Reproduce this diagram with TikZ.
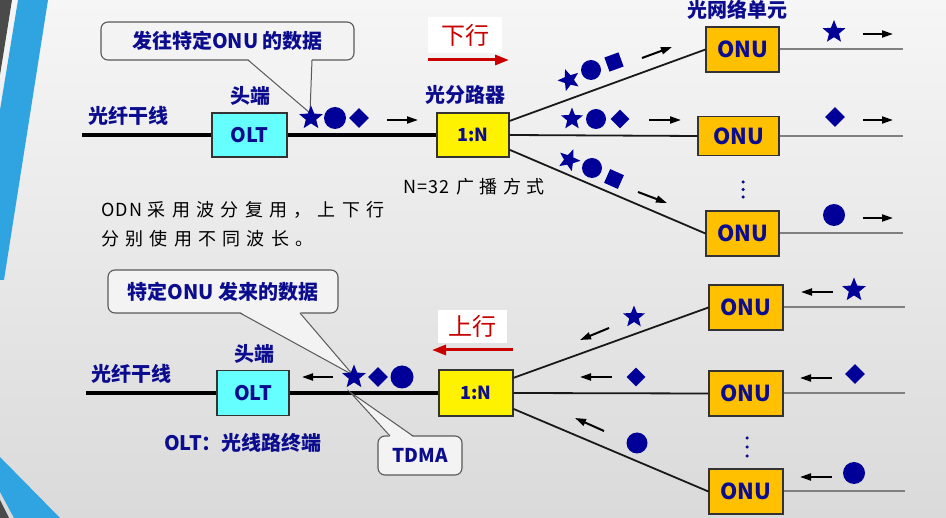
\documentclass[tikz,border=0pt]{standalone}
\usepackage{fontspec}
\setmainfont{Noto Sans CJK SC}
\usetikzlibrary{shapes.geometric,arrows.meta,calc}
\definecolor{navy}{HTML}{0C0C8E}
\definecolor{symc}{HTML}{000099}
\definecolor{onuc}{HTML}{FFC000}
\definecolor{oltc}{HTML}{66FFFF}
\definecolor{redc}{HTML}{C80000}
\definecolor{bandblue}{HTML}{2FA4E0}
\definecolor{banddark}{HTML}{4A4A4A}
\definecolor{bgtop}{HTML}{F6F6F6}
\definecolor{bgbot}{HTML}{DADADA}
\definecolor{cofill}{HTML}{F3F3F3}
\newcommand\myfs[1]{\fontsize{#1}{#1}\selectfont}
\tikzset{
 devbox/.style={draw=black!80, line width=1.1pt, inner sep=0pt, text=navy, font=\bfseries\myfs{20}},
 lab/.style={text=navy, font=\bfseries\myfs{20}, inner sep=0pt},
 trunk/.style={line width=3.5pt, black},
 branch/.style={line width=1.8pt, black!90},
 tail/.style={line width=2pt, black!50},
 marr/.style={line width=2pt, -{Triangle[length=11pt,width=7pt]}},
 rarr/.style={line width=3pt, redc, -{Triangle[length=14pt,width=10pt]}},
 callout/.style={draw=black!65, line width=1.1pt, rounded corners=7pt, fill=cofill, text=navy, font=\bfseries\myfs{20}, inner sep=0pt},
 cline/.style={draw=black!65, line width=1pt},
 sstar/.style={star, star points=5, star point ratio=2.3, fill=symc, inner sep=0pt, minimum size=25pt},
 scirc/.style={circle, fill=symc, inner sep=0pt, minimum size=21pt},
 sdiam/.style={diamond, fill=symc, inner sep=0pt, minimum size=20pt},
 ssq/.style={rectangle, fill=symc, inner sep=0pt, minimum size=15pt},
 dirlab/.style={fill=white, text=redc, font=\myfs{24}, inner sep=0pt},
 vdot/.style={circle, fill=navy, inner sep=0pt, minimum size=3.5pt},
}
\begin{document}
\begin{tikzpicture}[x=1pt,y=-1pt]
\useasboundingbox (0,0) rectangle (946,518);
\shade[top color=bgtop, bottom color=bgbot] (0,0) rectangle (946,518);
% left decoration
\fill[banddark] (0,0) -- (12,0) -- (0,75) -- cycle;
\fill[bandblue] (18,0) -- (48,0) -- (4,280) -- (0,280) -- (0,110) -- cycle;
\fill[bandblue] (0,457) -- (60,518) -- (14,518) -- (0,492) -- cycle;
\fill[banddark] (0,500) -- (9,518) -- (0,518) -- cycle;

% ================= TOP (downstream) =================
\node[lab] (trunkLab1) at (128,116) {光纤干线};
\node[lab] (head1) at (250,96) {头端};
\node[devbox, fill=oltc, minimum width=75pt, minimum height=44pt] (olt1) at (249.5,135) {OLT};
\node[devbox, fill=yellow, minimum width=72pt, minimum height=44pt, font=\bfseries\myfs{18}] (spl1) at (473,135) {1:N};
\node[lab] (splLab1) at (465,95) {光分路器};
\node[devbox, fill=onuc, minimum width=73pt, minimum height=45pt, font=\bfseries\myfs{22}] (onu1) at (742.5,49.5) {ONU};
\node[devbox, fill=onuc, minimum width=81pt, minimum height=39pt, font=\bfseries\myfs{22}] (onu2) at (738.5,136) {ONU};
\node[devbox, fill=onuc, minimum width=73pt, minimum height=45pt, font=\bfseries\myfs{22}] (onu3) at (742.5,233.5) {ONU};
\node[lab] (onuLab) at (737,10) {光网络单元};

\coordinate (tl1) at (82,135);
\coordinate (rx1) at (903,0);
\draw[trunk] (tl1) -- (olt1.west);
\draw[trunk] (olt1.east) -- (spl1.west);
\draw[branch] (spl1.21) -- (onu1.west);
\draw[branch] (spl1.east) -- (onu2.west);
\draw[branch] (spl1.-22) -- (onu3.west);
\draw[tail] (onu1.east) -- (onu1.east -| rx1);
\draw[tail] (onu2.east) -- (onu2.east -| rx1);
\draw[tail] (onu3.east) -- (onu3.east -| rx1);

% callout top
\node[callout, minimum width=253pt, minimum height=38pt] (co1) at (227.5,41) {发往特定ONU 的数据};
\coordinate (co1a) at (248,60);
\coordinate (co1b) at (312,60);
\coordinate (co1t) at (310,113);
\fill[cofill] ($(co1a)+(0,-1)$) -- (co1t) -- ($(co1b)+(0,-1)$) -- cycle;
\draw[cline] (co1a) -- (co1t) -- (co1b);

% symbols top trunk
\node[sstar] (s1) at (311,118) {};
\node[scirc, minimum size=22pt] (c1) at (335,118) {};
\node[sdiam] (d1) at (359,118) {};
% branch symbols
\node[sstar, rotate=20, minimum size=23pt] (s2) at (569,80) {};
\node[scirc, minimum size=20pt] (c2) at (591,70) {};
\node[ssq, rotate=20] (d2) at (614,62) {};
\node[sstar, minimum size=23pt] (s3) at (572,119) {};
\node[scirc, minimum size=20pt] (c3) at (596,119) {};
\node[sdiam, minimum size=19pt] (d3) at (620,119) {};
\node[sstar, rotate=-22, minimum size=23pt] (s4) at (569,160) {};
\node[scirc, minimum size=20pt] (c4) at (592,168) {};
\node[ssq, rotate=-24] (d4) at (614,179) {};
\node[sstar, minimum size=24pt] (s5) at (834,32) {};
\node[sdiam] (d5) at (835,117) {};
\node[scirc, minimum size=22pt] (c5) at (834,215) {};
% dots
\node[vdot] (v1a) at (743,182) {};
\node[vdot] (v1b) at (743,189.5) {};
\node[vdot] (v1c) at (743,197) {};

% motion arrows top
\coordinate (a1s) at (387,120); \coordinate (a1e) at (418,120);
\coordinate (a2s) at (642,58);  \coordinate (a2e) at (672,47);
\coordinate (a3s) at (649,120); \coordinate (a3e) at (681,120);
\coordinate (a4s) at (638,192); \coordinate (a4e) at (667,203);
\coordinate (a5s) at (863,34);  \coordinate (a5e) at (893,34);
\coordinate (a6s) at (863,120); \coordinate (a6e) at (893,120);
\coordinate (a7s) at (863,218); \coordinate (a7e) at (893,218);
\foreach \i in {1,...,7} {\draw[marr] (a\i s) -- (a\i e);}

% direction label
\node[dirlab, minimum width=74pt, minimum height=36pt] (down) at (465,35) {下行};
\coordinate (ds) at (428,60); \coordinate (de) at (509,60);
\draw[rarr] (ds) -- (de);

% notes
\node[inner sep=0pt, anchor=west, align=left, font=\fontsize{18}{29}\selectfont] (note1) at (101,224.5) {{\addfontfeature{LetterSpace=8}ODN}\hspace{5pt}{\addfontfeature{LetterSpace=35}采用波分复用，上下行}\\{\addfontfeature{LetterSpace=35}分别使用不同波长。}};
\node[inner sep=0pt, anchor=west, font=\myfs{18}] (note2) at (403,187) {{\addfontfeature{LetterSpace=6}N=32}\hspace{7pt}{\addfontfeature{LetterSpace=30}广播方式}};

% ================= BOTTOM (upstream) =================
\node[lab] (trunkLab2) at (131,374) {光纤干线};
\node[lab] (head2) at (254,354) {头端};
\node[devbox, fill=oltc, minimum width=72pt, minimum height=45pt] (olt2) at (253,393) {OLT};
\node[devbox, fill=yellow, minimum width=74pt, minimum height=46pt, font=\bfseries\myfs{18}] (spl2) at (476,393) {1:N};
\node[devbox, fill=onuc, minimum width=74pt, minimum height=45pt, font=\bfseries\myfs{22}] (onub1) at (746,307.5) {ONU};
\node[devbox, fill=onuc, minimum width=74pt, minimum height=45pt, font=\bfseries\myfs{22}] (onub2) at (746,393.5) {ONU};
\node[devbox, fill=onuc, minimum width=74pt, minimum height=45pt, font=\bfseries\myfs{22}] (onub3) at (746,491.5) {ONU};
\node[lab] (oltdef) at (243,443) {OLT：光线路终端};

\coordinate (tl2) at (86,393);
\coordinate (rx2) at (905,0);
\draw[trunk] (tl2) -- (olt2.west);
\draw[trunk] (olt2.east) -- (spl2.west);
\draw[branch] (spl2.22) -- (onub1.west);
\draw[branch] (spl2.east) -- (onub2.west);
\draw[branch] (spl2.-23) -- (onub3.west);
\draw[tail] (onub1.east) -- (onub1.east -| rx2);
\draw[tail] (onub2.east) -- (onub2.east -| rx2);
\draw[tail] (onub3.east) -- (onub3.east -| rx2);

% callouts bottom
\node[callout, minimum width=230pt, minimum height=43pt] (co2) at (223,291.5) {特定ONU 发来的数据};
\coordinate (co2a) at (240,313);
\coordinate (co2b) at (300,313);
\coordinate (co2t) at (353,375);
\fill[cofill] ($(co2a)+(0,-1)$) -- (co2t) -- ($(co2b)+(0,-1)$) -- cycle;
\draw[cline] (co2a) -- (co2t) -- (co2b);

\node[callout, minimum width=84pt, minimum height=39pt, font=\bfseries\myfs{19}] (co3) at (420,455.5) {TDMA};
\coordinate (co3a) at (390,436);
\coordinate (co3b) at (413,436);
\coordinate (co3t) at (350,392);
\fill[cofill] ($(co3a)+(0,1)$) -- (co3t) -- ($(co3b)+(0,1)$) -- cycle;
\draw[cline] (co3a) -- (co3t) -- (co3b);

% symbols bottom trunk
\node[sstar] (bs1) at (354,377) {};
\node[sdiam] (bd1) at (378,377) {};
\node[scirc, minimum size=23pt] (bc1) at (402,377) {};
\node[sstar, minimum size=23pt] (bs2) at (634,317) {};
\node[sdiam, minimum size=19pt] (bd2) at (636,377) {};
\node[scirc] (bc2) at (637,443) {};
\node[sstar] (bs3) at (854,290) {};
\node[sdiam] (bd3) at (855,374) {};
\node[scirc, minimum size=22pt] (bc3) at (854,473) {};
\node[vdot] (v2a) at (747,438) {};
\node[vdot] (v2b) at (747,447) {};
\node[vdot] (v2c) at (747,456) {};

% motion arrows bottom
\coordinate (b1s) at (333,377); \coordinate (b1e) at (302,377);
\coordinate (b2s) at (609,328); \coordinate (b2e) at (580,340);
\coordinate (b3s) at (612,377); \coordinate (b3e) at (580,377);
\coordinate (b4s) at (604,431); \coordinate (b4e) at (575,418);
\coordinate (b5s) at (833,292); \coordinate (b5e) at (801,292);
\coordinate (b6s) at (832,378); \coordinate (b6e) at (800,378);
\coordinate (b7s) at (832,477); \coordinate (b7e) at (800,477);
\foreach \i in {1,...,7} {\draw[marr] (b\i s) -- (b\i e);}

\node[dirlab, minimum width=69pt, minimum height=33pt] (up) at (472.5,326.5) {上行};
\coordinate (us) at (513,350); \coordinate (ue) at (432,350);
\draw[rarr] (us) -- (ue);
\end{tikzpicture}
\end{document}
